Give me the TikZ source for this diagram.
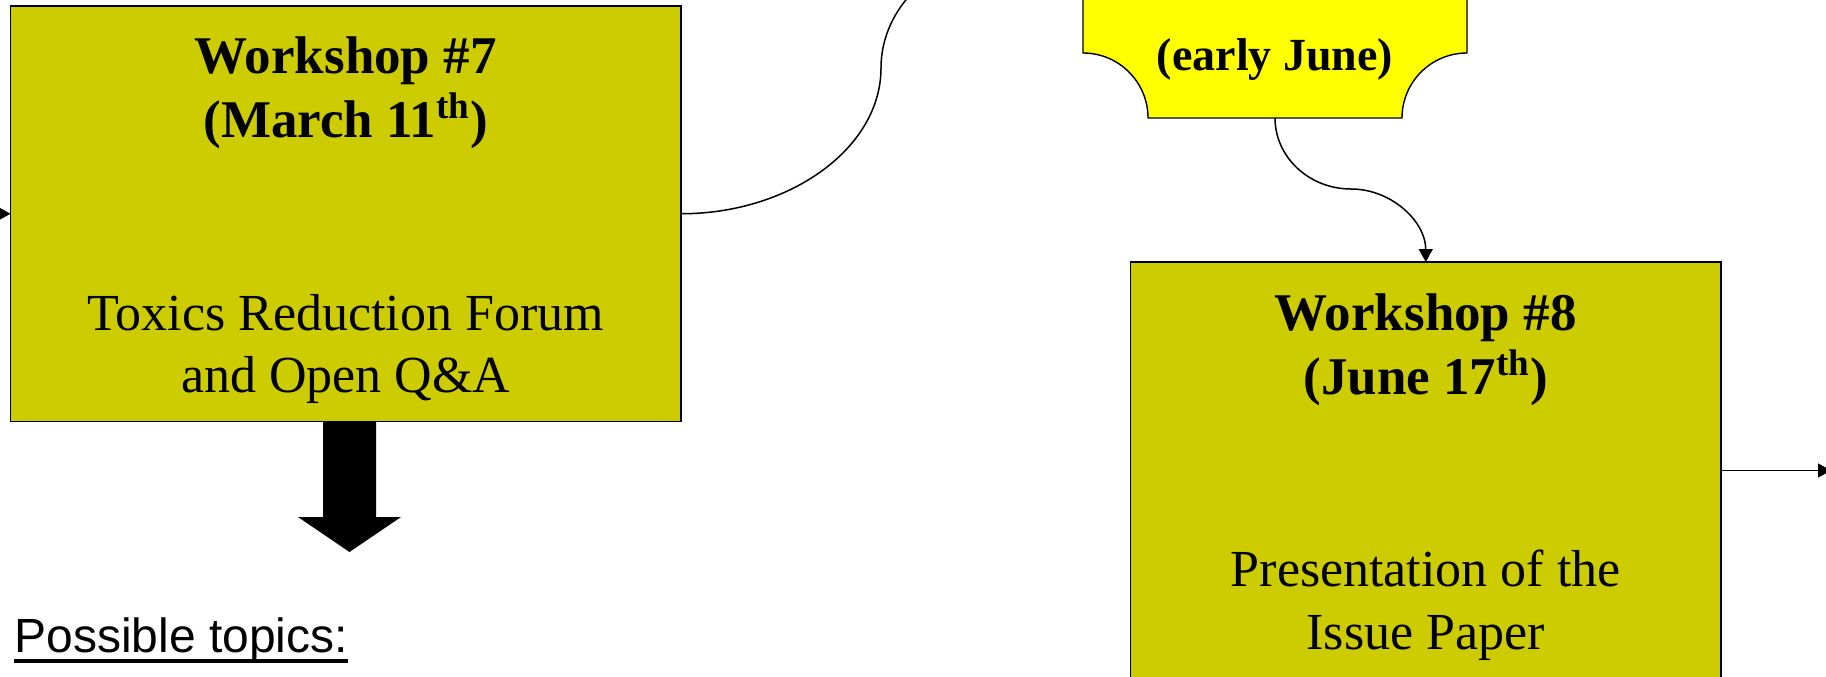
\documentclass[tikz,border=0pt]{standalone}
\usepackage{fontspec}
\setmainfont{Liberation Serif}
\newfontfamily\arialfont{Liberation Sans}
\usetikzlibrary{arrows.meta,calc}
\definecolor{olivey}{HTML}{CCCC00}
\definecolor{plaqueyellow}{HTML}{FFFF00}
\begin{document}
\begin{tikzpicture}[x=0.5pt,y=-0.5pt,
  wbox/.style={draw=black, line width=0.7pt, fill=olivey, inner sep=0pt, outer sep=0pt},
  ttl/.style={anchor=base, inner sep=0pt, font=\fontsize{26.5}{31}\selectfont\bfseries},
  bdy/.style={anchor=base, inner sep=0pt, font=\fontsize{26}{31}\selectfont},
  pqtxt/.style={anchor=base, inner sep=0pt, font=\fontsize{23}{28}\selectfont\bfseries},
  conn/.style={draw=black, line width=0.75pt},
  tip/.style={-{Triangle[length=6.5pt,width=7pt]}},
]
\useasboundingbox (0,0) rectangle (1826,676);
\clip (0,0) rectangle (1826,676);

% boxes
\node[wbox, minimum width=335.25pt, minimum height=207.75pt] (w7) at (345.75,213.75) {};
\node[wbox, minimum width=295.25pt, minimum height=208.5pt] (w8) at (1425.75,470.5) {};

% plaque
\filldraw[fill=plaqueyellow, draw=black, line width=0.7pt]
  (1083,-120) -- (1083,53) arc[start angle=-90, end angle=0, radius=65]
  -- (1402,118) arc[start angle=180, end angle=270, radius=65]
  -- (1467,-120) -- cycle;
\coordinate (pq) at (1275,118);
\node[pqtxt] (pqt) at (1275,70) {(early June)};

% texts
\node[ttl] (w7a) at (345.75,73) {Workshop \#7};
\node[ttl] (w7b) at (345.75,137) {(March 11\textsuperscript{th})};
\node[bdy] (w7c) at (345.75,330) {Toxics Reduction Forum};
\node[bdy] (w7d) at (345.75,392) {and Open Q\&A};

\node[ttl] (w8a) at (1425.75,330) {Workshop \#8};
\node[ttl] (w8b) at (1425.75,394) {(June 17\textsuperscript{th})};
\node[bdy] (w8c) at (1425.75,586) {Presentation of the};
\node[bdy] (w8d) at (1425.75,649) {Issue Paper};

\node[anchor=base west, inner sep=0pt, font=\arialfont\fontsize{24}{28}\selectfont] (pt) at (14,652) {Possible topics:};
\draw[line width=1.6pt] ($(pt.base west)+(0,9)$) -- ($(pt.base east)+(0,9)$);

% connectors
\coordinate (lin) at (-40,213.75);
\draw[conn,tip] (lin) -- (w7.west);

\coordinate (cA) at (881,68);
\coordinate (cB) at (985,-45);
\draw[conn] (w7.east) .. controls +(109,0) and +(0,80) .. (cA) .. controls +(0,-55) and +(-60,10) .. (cB);

\coordinate (pm) at (1351,189);
\draw[conn,tip] (pq) .. controls +(0,39) and +(-42,0) .. (pm) .. controls +(41,0) and +(0,-40) .. (w8.north);

\coordinate (rout) at (1831,470.5);
\draw[conn,tip] (w8.east) -- (rout);

% block arrow
\fill[black] (323,421.5) -- (376,421.5) -- (376,517) -- (401,517) -- (349.5,552) -- (298,517) -- (323,517) -- cycle;
\end{tikzpicture}
\end{document}
